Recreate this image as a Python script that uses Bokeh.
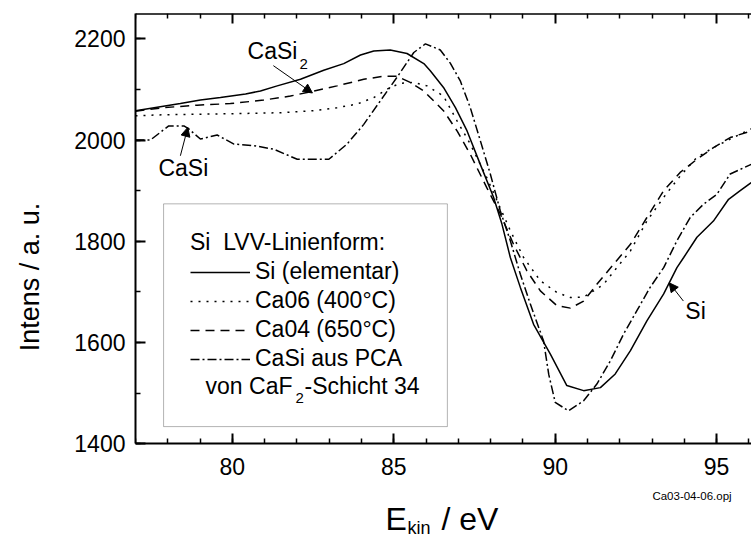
from bokeh.plotting import figure
from bokeh.models import (Range1d, LinearAxis, Legend, LegendItem, Label, Arrow,
                          NormalHead, BoxAnnotation, SingleIntervalTicker, FixedTicker)
from bokeh.embed import file_html
from bokeh.resources import INLINE

FONT = "Liberation Sans"

# ---- data ----
si_x = [77.0, 78.39, 79.01, 79.63, 80.41, 80.87, 81.39, 82.11, 82.83, 83.45, 83.97, 84.38,
        84.89, 85.41, 85.93, 86.13, 86.54, 86.91, 87.27, 87.68, 88.09, 88.35, 88.61, 88.92,
        89.33, 89.85, 90.36, 90.88, 91.40, 91.86, 92.33, 92.84, 93.36, 93.77, 93.98, 94.39,
        94.90, 95.37, 95.73, 96.07]
si_y = [2058, 2072, 2079, 2084, 2091, 2097, 2107, 2120, 2138, 2151, 2168, 2176,
        2178, 2171, 2151, 2137, 2104, 2064, 2018, 1952, 1887, 1834, 1768, 1709,
        1636, 1577, 1515, 1505, 1511, 1538, 1584, 1643, 1696, 1748, 1768, 1808,
        1840, 1883, 1900, 1916]

ca06_x = [77.0, 77.88, 79.94, 81.49, 82.52, 83.24, 83.86, 84.38, 84.89, 85.20, 85.62, 86.03,
          86.54, 86.96, 87.37, 87.88, 88.20, 88.61, 89.02, 89.54, 90.05, 90.47, 90.88, 91.19,
          91.50, 91.91, 92.33, 92.84, 93.36, 93.87, 94.39, 94.90, 95.42, 96.07]
ca06_y = [2048, 2050, 2052, 2054, 2058, 2064, 2071, 2084, 2104, 2112, 2114, 2107,
          2087, 2038, 1992, 1926, 1880, 1821, 1768, 1722, 1699, 1689, 1690, 1702,
          1715, 1748, 1781, 1840, 1887, 1929, 1966, 1985, 2002, 2022]

ca04_x = [77.0, 77.88, 78.91, 79.94, 80.97, 81.80, 82.47, 83.24, 84.07, 84.69, 85.10, 85.51,
          85.93, 86.13, 86.54, 86.96, 87.37, 87.88, 88.30, 88.71, 89.12, 89.54, 90.05, 90.47,
          90.88, 91.29, 91.81, 92.33, 92.84, 93.36, 93.87, 94.39, 94.90, 95.42, 96.07]
ca04_y = [2057, 2064, 2069, 2072, 2079, 2087, 2096, 2107, 2120, 2126, 2126, 2114,
          2097, 2084, 2058, 2018, 1972, 1906, 1854, 1794, 1742, 1702, 1673, 1668,
          1682, 1715, 1755, 1794, 1847, 1900, 1936, 1962, 1985, 2005, 2018]

casi_x = [77.0, 77.46, 78.03, 78.50, 78.65, 79.01, 79.53, 80.05, 80.66, 81.28, 82.01, 82.99,
          83.55, 84.07, 84.59, 85.10, 85.62, 85.98, 86.44, 86.75, 87.06, 87.37, 87.68, 87.99,
          88.30, 88.61, 88.92, 89.23, 89.64, 89.80, 90.00, 90.41, 90.88, 91.29, 91.71, 92.12,
          92.53, 92.94, 93.36, 93.77, 94.18, 94.59, 95.01, 95.42, 96.07]
casi_y = [2000, 2000, 2028, 2028, 2022, 2002, 2010, 1992, 1989, 1982, 1962, 1962,
          1992, 2031, 2078, 2124, 2173, 2190, 2178, 2152, 2117, 2064, 1999, 1933,
          1860, 1801, 1735, 1676, 1603, 1537, 1482, 1465, 1485, 1518, 1564, 1617,
          1663, 1709, 1748, 1801, 1847, 1873, 1893, 1933, 1952]

labels = ["Si (elementar)", "Ca06 (400°C)", "Ca04 (650°C)", "CaSi aus PCA"]
x_major = [80, 85, 90, 95]
x_minor = [77, 78, 79, 81, 82, 83, 84, 86, 87, 88, 89, 91, 92, 93, 94, 96]

Y_BOTTOM = 1400  # bottom of the drawn axes
Y_TOP = 2250

# ---- figure (frame runs to the page bottom so that texts under the axis are drawn) ----
p = figure(width=751, height=540, x_range=Range1d(77, 96.08), y_range=Range1d(1209, Y_TOP),
           output_backend="svg", toolbar_location=None, x_axis_location=None,
           min_border_left=135, min_border_right=0, min_border_top=13, min_border_bottom=0)
p.outline_line_color = None
p.grid.visible = False
p.background_fill_color = "white"
p.border_fill_color = "white"


def style_axis(ax, size="23px"):
    ax.axis_line_width = 2
    ax.axis_line_color = "black"
    ax.major_tick_line_width = 2
    ax.minor_tick_line_width = 1.5
    ax.major_tick_line_color = "black"
    ax.minor_tick_line_color = "black"
    ax.major_tick_in = 10
    ax.major_tick_out = 0
    ax.minor_tick_in = 5
    ax.minor_tick_out = 0
    ax.major_label_text_font = FONT
    ax.major_label_text_font_size = size
    ax.major_label_text_color = "black"


for ax in p.yaxis:
    style_axis(ax)
    ax.ticker = SingleIntervalTicker(interval=200, num_minor_ticks=2)
    ax.bounds = (Y_BOTTOM, Y_TOP)
    ax.major_label_standoff = 10
    ax.axis_label = "Intens / a. u."
    ax.axis_label_text_font = FONT
    ax.axis_label_text_font_size = "27px"
    ax.axis_label_text_font_style = "normal"
    ax.axis_label_text_color = "black"
    ax.axis_label_standoff = 26

bottom = LinearAxis(ticker=SingleIntervalTicker(interval=5, num_minor_ticks=5),
                    fixed_location=Y_BOTTOM)
style_axis(bottom)
bottom.major_label_standoff = 14
p.add_layout(bottom, "below")

top_minor = LinearAxis(ticker=FixedTicker(ticks=[], minor_ticks=x_minor), fixed_location=Y_TOP)
style_axis(top_minor)
p.add_layout(top_minor, "above")
top_major = LinearAxis(ticker=FixedTicker(ticks=[], minor_ticks=x_major), fixed_location=Y_TOP)
style_axis(top_major)
top_major.minor_tick_in = 10
top_major.minor_tick_line_width = 2
p.add_layout(top_major, "above")

# ---- curves ----
r_si = p.line(si_x, si_y, line_color="black", line_width=1.5)
r_06 = p.line(ca06_x, ca06_y, line_color="black", line_width=1.5, line_dash="2 6")
r_04 = p.line(ca04_x, ca04_y, line_color="black", line_width=1.5, line_dash="9 6")
r_casi = p.line(casi_x, casi_y, line_color="black", line_width=1.5, line_dash="9 3 2 3")

# ---- legend ----
box = BoxAnnotation(left=77.87, right=86.66, bottom=1434, top=1874,
                    fill_color="white", fill_alpha=1, line_color="black", line_width=1,
                    level="underlay")
p.add_layout(box)

legend = Legend(items=[LegendItem(label=labels[0], renderers=[r_si]),
                       LegendItem(label=labels[1], renderers=[r_06]),
                       LegendItem(label=labels[2], renderers=[r_04]),
                       LegendItem(label=labels[3], renderers=[r_casi])],
                title="Si  LVV-Linienform:", location=(55, 168))
legend.title_text_font = FONT
legend.title_text_font_size = "23px"
legend.title_text_font_style = "normal"
legend.title_text_color = "black"
legend.title_standoff = 2
legend.label_text_font = FONT
legend.label_text_font_size = "23px"
legend.label_text_color = "black"
legend.label_height = 26
legend.glyph_height = 26
legend.glyph_width = 60
legend.label_standoff = 5
legend.spacing = 2
legend.padding = 0
legend.margin = 0
legend.border_line_color = None
legend.background_fill_alpha = 0
p.add_layout(legend)


def lab(x, y, text, size="23px", align="left", baseline="middle", xo=0, yo=0):
    p.add_layout(Label(x=x, y=y, text=text, text_font=FONT, text_font_size=size,
                       text_align=align, text_baseline=baseline, text_color="black",
                       x_offset=xo, y_offset=yo))


# last legend row: von CaF2-Schicht 34
lab(79.17, 1515, "von CaF")
lab(79.17, 1515, "2", size="15px", xo=90, yo=-12)
lab(79.17, 1515, "-Schicht 34", xo=99)

# ---- annotations ----
head = dict(size=9, fill_color="black", line_color="black", line_width=1)
lab(80.47, 2176, "CaSi")
lab(80.47, 2176, "2", size="15px", xo=52, yo=-13)
p.add_layout(Arrow(end=NormalHead(**head), x_start=81.27, y_start=2147, x_end=82.48, y_end=2093,
                   line_width=1, line_color="black"))

lab(77.71, 1945, "CaSi")
p.add_layout(Arrow(end=NormalHead(**head), x_start=78.39, y_start=1969, x_end=78.62, y_end=2025,
                   line_width=1, line_color="black"))

lab(94.03, 1663, "Si")
p.add_layout(Arrow(end=NormalHead(**head), x_start=93.97, y_start=1682, x_end=93.53, y_end=1718,
                   line_width=1, line_color="black"))

# ---- x axis title with subscript ----
lab(84.74, 1251, "E", size="32px")
lab(84.74, 1251, "kin", size="18px", xo=22, yo=-9)
lab(84.74, 1251, "/ eV", size="32px", xo=56)

# file name note
lab(93.01, 1297, "Ca03-04-06.opj", size="11.5px")

open("out.html", "w").write(file_html(p, INLINE))
